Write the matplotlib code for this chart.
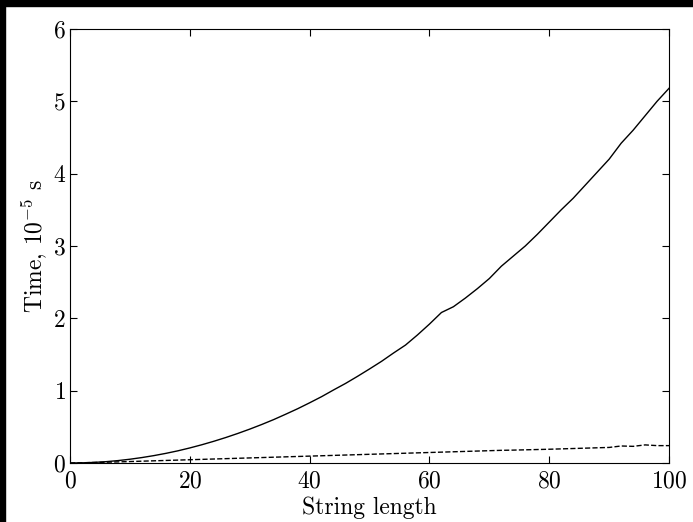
import matplotlib
matplotlib.use("Agg")
import matplotlib.pyplot as plt
from matplotlib.patches import Rectangle

plt.rcParams["font.family"] = "serif"
plt.rcParams["font.serif"] = ["cmr10"]
plt.rcParams["mathtext.fontset"] = "cm"
plt.rcParams["axes.formatter.use_mathtext"] = True

# string length vs time (units of 1e-5 s)
lengths = list(range(0, 101, 2))
time_solid = [0.0, 0.002, 0.008, 0.018, 0.033, 0.052, 0.075, 0.102, 0.133, 0.168,
              0.208, 0.252, 0.30, 0.352, 0.408, 0.468, 0.532, 0.60, 0.674, 0.75,
              0.832, 0.917, 1.01, 1.10, 1.198, 1.30, 1.405, 1.52, 1.63, 1.77,
              1.92, 2.08, 2.16, 2.28, 2.41, 2.55, 2.72, 2.86, 3.0, 3.16,
              3.33, 3.50, 3.66, 3.84, 4.02, 4.20, 4.42, 4.60, 4.80, 5.0, 5.18]
time_dashed = [0.0, 0.003, 0.007, 0.011, 0.015, 0.02, 0.025, 0.03, 0.035, 0.04,
               0.045, 0.05, 0.055, 0.06, 0.065, 0.07, 0.075, 0.08, 0.085, 0.09,
               0.095, 0.10, 0.105, 0.11, 0.115, 0.12, 0.125, 0.13, 0.135, 0.14,
               0.145, 0.15, 0.155, 0.16, 0.165, 0.17, 0.175, 0.178, 0.182, 0.186,
               0.19, 0.195, 0.20, 0.205, 0.21, 0.215, 0.235, 0.23, 0.25, 0.24, 0.24]

fig = plt.figure(figsize=(6.931, 5.221), dpi=100)
ax = fig.add_axes([70 / 693, 1 - 463 / 522, 599 / 693, 434 / 522])

ax.plot(lengths, time_solid, color="black", lw=1.0)
ax.plot(lengths, time_dashed, color="black", lw=1.0, ls="--")

ax.set_xlim(0, 100)
ax.set_ylim(0, 6)
ax.set_xticks([0, 20, 40, 60, 80, 100])
ax.set_yticks([0, 1, 2, 3, 4, 5, 6])
ax.tick_params(direction="in", top=True, right=True, length=5, width=0.8,
               labelsize=17)
ax.tick_params(axis="x", pad=5)
ax.tick_params(axis="y", pad=3)
ax.set_xlabel("String length", fontsize=17, labelpad=3)
ax.set_ylabel(r"Time, $10^{-5}$ s", fontsize=17, labelpad=3)

# black strips along the top and left edges of the image
fig.patches.append(Rectangle((0, 0), 5 / 693, 1, transform=fig.transFigure,
                             color="black", zorder=0))
fig.patches.append(Rectangle((0, 1 - 6 / 522), 1, 6 / 522, transform=fig.transFigure,
                             color="black", zorder=0))

fig.savefig("out.png", dpi=100)
